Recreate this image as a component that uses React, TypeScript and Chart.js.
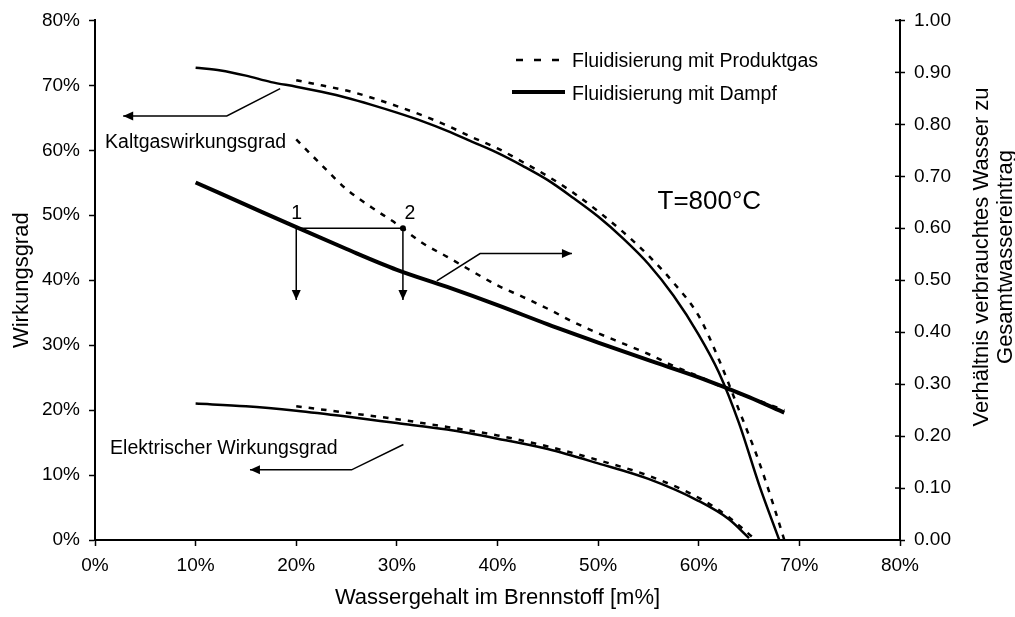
import { useEffect, useRef } from 'react';
import { Chart, registerables } from 'chart.js';

Chart.register(...registerables);

// ---- data (x: Wassergehalt im Brennstoff [%]) ----
const kaltDampfX = [10, 12.5, 15, 17.5, 20, 22.5, 25, 27.5, 30, 32.5, 35, 37.5, 40, 42.5, 45, 47.5, 50, 52.5, 55, 57.5, 60, 62, 64, 66, 68];
const kaltDampfY = [72.7, 72.3, 71.5, 70.5, 69.8, 69.0, 68.1, 67.0, 65.8, 64.5, 63.0, 61.3, 59.6, 57.6, 55.4, 52.7, 49.8, 46.4, 42.5, 37.6, 31.6, 25.8, 18.0, 8.5, 0];

const kaltGasX = [20, 22.5, 25, 27.5, 30, 32.5, 35, 37.5, 40, 42.5, 45, 47.5, 50, 52.5, 55, 57.5, 60, 62, 64, 66, 67.5, 68.5];
const kaltGasY = [70.8, 70.0, 69.2, 68.1, 66.8, 65.4, 63.8, 62.0, 60.3, 58.2, 56.0, 53.5, 50.6, 47.4, 43.8, 39.6, 34.5, 27.8, 20.0, 12.0, 5.0, 0];

const elDampfX = [10, 15, 20, 25, 30, 35, 40, 45, 50, 55, 60, 63, 65];
const elDampfY = [21.0, 20.6, 19.9, 19.0, 18.0, 17.0, 15.6, 14.0, 11.8, 9.4, 6.0, 3.2, 0.3];

const elGasX = [20, 25, 30, 35, 40, 45, 50, 55, 60, 63, 65.3];
const elGasY = [20.6, 19.6, 18.6, 17.4, 16.1, 14.4, 12.3, 9.9, 6.5, 3.5, 0.5];

const wasserDampfX = [10, 15, 20, 25, 30, 35, 40, 45, 50, 55, 60, 65, 68.5];
const wasserDampfY = [0.688, 0.645, 0.602, 0.560, 0.520, 0.487, 0.452, 0.415, 0.380, 0.346, 0.313, 0.275, 0.245];

const wasserGasX = [20, 22.5, 25, 27.5, 30, 32.5, 35, 37.5, 40, 42.5, 45, 47.5, 50, 52.5, 55, 57.5, 60, 62.5, 65, 68.5];
const wasserGasY = [0.771, 0.722, 0.675, 0.640, 0.608, 0.572, 0.545, 0.517, 0.490, 0.468, 0.445, 0.420, 0.398, 0.378, 0.358, 0.335, 0.315, 0.293, 0.275, 0.250];

const rightTicks = [0, 0.1, 0.2, 0.3, 0.4, 0.5, 0.6, 0.7, 0.8, 0.9, 1.0];

const FONT = '"Liberation Sans", Arial, Helvetica, sans-serif';
const DASH = [5.5, 7];

const zip = (xs: number[], ys: number[]) => xs.map((v, i) => ({ x: v, y: ys[i] }));

function arrowPath(ctx: CanvasRenderingContext2D, pts: [number, number][], head = 10, half = 4.5) {
  ctx.beginPath();
  ctx.moveTo(pts[0][0], pts[0][1]);
  for (let i = 1; i < pts.length; i++) ctx.lineTo(pts[i][0], pts[i][1]);
  ctx.stroke();
  const [x1, y1] = pts[pts.length - 2];
  const [x2, y2] = pts[pts.length - 1];
  const a = Math.atan2(y2 - y1, x2 - x1);
  ctx.beginPath();
  ctx.moveTo(x2, y2);
  ctx.lineTo(x2 - head * Math.cos(a) + half * Math.sin(a), y2 - head * Math.sin(a) - half * Math.cos(a));
  ctx.lineTo(x2 - head * Math.cos(a) - half * Math.sin(a), y2 - head * Math.sin(a) + half * Math.cos(a));
  ctx.closePath();
  ctx.fill();
}

const overlay = {
  id: 'overlay',
  afterDraw(chart: any) {
    const ctx: CanvasRenderingContext2D = chart.ctx;
    const { x, y, y2 } = chart.scales;
    const px = (v: number) => x.getPixelForValue(v);
    const py = (v: number) => y.getPixelForValue(v);
    const pr = (v: number) => y2.getPixelForValue(v);
    const area = chart.chartArea;
    ctx.save();
    ctx.strokeStyle = '#000';
    ctx.fillStyle = '#000';
    ctx.setLineDash([]);

    // inner half of right-axis ticks (crossing ticks)
    ctx.lineWidth = 1.5;
    rightTicks.forEach((v) => {
      const yy = pr(v);
      ctx.beginPath();
      ctx.moveTo(area.right - 5, yy);
      ctx.lineTo(area.right, yy);
      ctx.stroke();
    });

    // arrows
    ctx.lineWidth = 1.5;
    arrowPath(ctx, [[px(18.4), py(69.5)], [px(13.1), py(65.3)], [px(2.8), py(65.3)]]);
    arrowPath(ctx, [[px(30.65), py(14.7)], [px(25.5), py(10.8)], [px(15.4), py(10.8)]]);
    arrowPath(ctx, [[px(33.97), py(39.9)], [px(38.27), py(44.1)], [px(47.4), py(44.1)]]);

    // points 1 and 2
    const p1x = px(20), p2x = px(30.6), pyy = pr(0.6);
    ctx.beginPath();
    ctx.moveTo(p1x, pyy);
    ctx.lineTo(p2x, pyy);
    ctx.stroke();
    arrowPath(ctx, [[p1x, pyy], [p1x, pr(0.462)]]);
    arrowPath(ctx, [[p2x, pyy], [p2x, pr(0.462)]]);
    ctx.beginPath();
    ctx.arc(p2x, pyy, 3, 0, Math.PI * 2);
    ctx.fill();

    // texts
    ctx.textBaseline = 'middle';
    ctx.textAlign = 'left';
    ctx.font = `19.5px ${FONT}`;
    ctx.fillText('Kaltgaswirkungsgrad', px(1.0), py(61.2));
    ctx.fillText('Elektrischer Wirkungsgrad', px(1.5), py(14.1));
    ctx.textAlign = 'center';
    ctx.fillText('1', px(20.05), py(50.2));
    ctx.fillText('2', px(31.3), py(50.2));
    ctx.textAlign = 'left';
    ctx.font = `26px ${FONT}`;
    ctx.fillText('T=800°C', px(55.9), py(52.0));

    // legend
    ctx.font = `19.5px ${FONT}`;
    ctx.fillText('Fluidisierung mit Produktgas', 572, 62);
    ctx.fillText('Fluidisierung mit Dampf', 572, 95);
    ctx.lineWidth = 2.5;
    ctx.setLineDash([7, 11]);
    ctx.beginPath();
    ctx.moveTo(516, 60);
    ctx.lineTo(565, 60);
    ctx.stroke();
    ctx.setLineDash([]);
    ctx.lineWidth = 4;
    ctx.beginPath();
    ctx.moveTo(512, 92);
    ctx.lineTo(565, 92);
    ctx.stroke();

    // axis titles
    ctx.font = `22px ${FONT}`;
    ctx.textAlign = 'center';
    ctx.fillText('Wassergehalt im Brennstoff [m%]', (area.left + area.right) / 2, 598);
    ctx.save();
    ctx.translate(22, (area.top + area.bottom) / 2);
    ctx.rotate(-Math.PI / 2);
    ctx.fillText('Wirkungsgrad', 0, 0);
    ctx.restore();
    ctx.save();
    ctx.translate(982, 257);
    ctx.rotate(-Math.PI / 2);
    ctx.fillText('Verhältnis verbrauchtes Wasser zu', 0, 0);
    ctx.fillText('Gesamtwassereintrag', 0, 24);
    ctx.restore();

    ctx.restore();
  },
};

export default function App() {
  const ref = useRef<HTMLCanvasElement | null>(null);
  useEffect(() => {
    document.body.style.margin = '0';
    const canvas = ref.current!;
    const tickFont = { family: FONT, size: 19 };
    const base = { pointRadius: 0, borderColor: '#000', fill: false, cubicInterpolationMode: 'monotone' as const };
    const chart = new Chart(canvas, {
      type: 'line',
      data: {
        datasets: [
          { ...base, label: 'Kaltgas Dampf', data: zip(kaltDampfX, kaltDampfY), borderWidth: 2.5, yAxisID: 'y' },
          { ...base, label: 'Kaltgas Produktgas', data: zip(kaltGasX, kaltGasY), borderWidth: 2.5, borderDash: DASH, yAxisID: 'y' },
          { ...base, label: 'Elektrisch Dampf', data: zip(elDampfX, elDampfY), borderWidth: 2.5, yAxisID: 'y' },
          { ...base, label: 'Elektrisch Produktgas', data: zip(elGasX, elGasY), borderWidth: 2.5, borderDash: DASH, yAxisID: 'y' },
          { ...base, label: 'Wasser Dampf', data: zip(wasserDampfX, wasserDampfY), borderWidth: 4, yAxisID: 'y2' },
          { ...base, label: 'Wasser Produktgas', data: zip(wasserGasX, wasserGasY), borderWidth: 2.5, borderDash: DASH, yAxisID: 'y2' },
        ],
      },
      options: {
        responsive: false,
        animation: false,
        layout: { padding: { top: 17, left: 0, right: 0, bottom: 0 } },
        plugins: { legend: { display: false }, tooltip: { enabled: false } },
        scales: {
          x: {
            type: 'linear',
            min: 0,
            max: 80,
            ticks: { stepSize: 10, color: '#000', font: tickFont, padding: 8, callback: (v: any) => v + '%' },
            grid: { drawOnChartArea: false, tickLength: 6, tickColor: '#000', tickWidth: 1.5 },
            border: { color: '#000', width: 2 },
            afterFit: (s: any) => { s.height = 77; },
          },
          y: {
            position: 'left',
            min: 0,
            max: 80,
            ticks: { stepSize: 10, color: '#000', font: tickFont, padding: 9, callback: (v: any) => v + '%' },
            grid: { drawOnChartArea: false, tickLength: 6, tickColor: '#000', tickWidth: 1.5 },
            border: { color: '#000', width: 2 },
            afterFit: (s: any) => { s.width = 95; },
          },
          y2: {
            position: 'right',
            min: 0,
            max: 1,
            afterBuildTicks: (s: any) => { s.ticks = rightTicks.map((v) => ({ value: v })); },
            ticks: { color: '#000', font: tickFont, padding: 9, callback: (v: any) => Number(v).toFixed(2) },
            grid: { drawOnChartArea: false, tickLength: 5, tickColor: '#000', tickWidth: 1.5 },
            border: { color: '#000', width: 2 },
            afterFit: (s: any) => { s.width = 115; },
          },
        },
      },
      plugins: [overlay],
    } as any);
    return () => chart.destroy();
  }, []);
  return (
    <div style={{ width: 1015, height: 617 }}>
      <canvas ref={ref} width={1015} height={617} style={{ display: 'block' }} />
    </div>
  );
}
